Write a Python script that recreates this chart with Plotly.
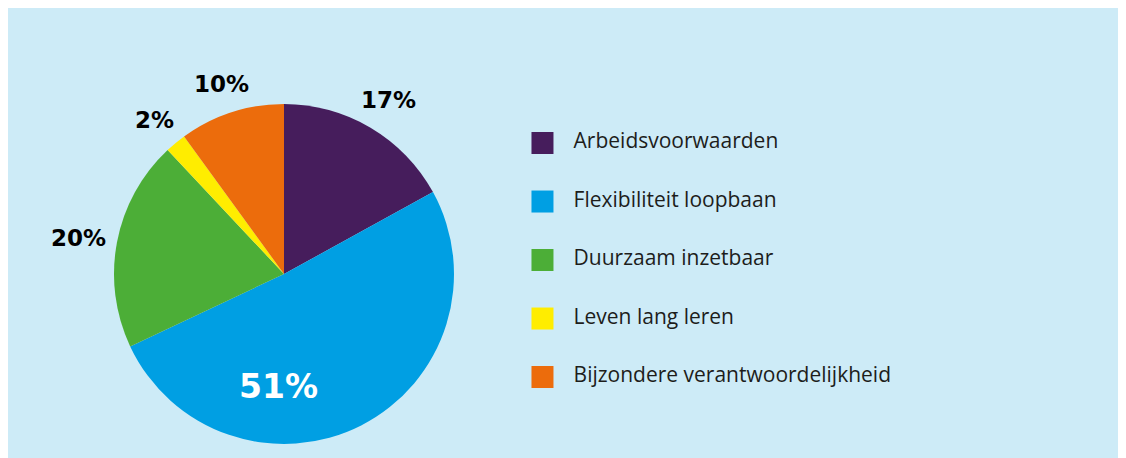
import math
import plotly.graph_objects as go

categories = ["Arbeidsvoorwaarden", "Flexibiliteit loopbaan", "Duurzaam inzetbaar",
              "Leven lang leren", "Bijzondere verantwoordelijkheid"]
values = [17, 51, 20, 2, 10]
colors = ["#461d5c", "#009fe3", "#4cae37", "#ffed00", "#ec6c0c"]

W, H = 1126, 458
BG = "#cdebf7"

fig = go.Figure()

# pie geometry (figure pixels)
cx, cy, R = 276, 266, 170
fig.add_trace(go.Pie(
    labels=categories, values=values, sort=False, direction="clockwise", rotation=0,
    marker=dict(colors=colors, line=dict(width=0)),
    textinfo="none",
    domain=dict(x=[(cx - R) / W, (cx + R) / W], y=[1 - (cy + R) / H, 1 - (cy - R) / H]),
    showlegend=False, hoverinfo="label+percent",
))

# percentage labels computed from the values (outside for small slices, inside for the big one)
total = sum(values)
cum = 0
lab_size = 23
for i, v in enumerate(values):
    mid = (cum + v / 2) / total * 2 * math.pi
    cum += v
    dx, dy = math.sin(mid), -math.cos(mid)
    txt = f"{v}%"
    if v > 40:
        px, py = cx - 0.03 * R, cy + 0.66 * R
        fig.add_annotation(x=px / W, y=1 - py / H, xref="paper", yref="paper",
                           xanchor="center", yanchor="middle", text=txt, showarrow=False,
                           font=dict(family="DejaVu Sans", size=33, color="white", weight="bold"))
    else:
        hw = 0.29 * lab_size * len(txt)
        hh = 9
        r = R + 18 + hw * abs(dx) + hh * abs(dy)
        px, py = cx + r * dx, cy + r * dy + 3
        fig.add_annotation(x=px / W, y=1 - py / H, xref="paper", yref="paper",
                           xanchor="center", yanchor="middle", text=txt, showarrow=False,
                           font=dict(family="DejaVu Sans", size=lab_size, color="#000000", weight="bold"))

# legend built from a scatter trace
fig.add_trace(go.Scatter(
    x=[0] * len(categories), y=list(range(len(categories))),
    mode="markers+text",
    marker=dict(symbol="square", size=22, color=colors, line=dict(width=0)),
    text=["   " + c for c in categories], textposition="middle right",
    textfont=dict(family="Open Sans", size=21, color="#1d1d1b"),
    showlegend=False, hoverinfo="skip", cliponaxis=False,
))

fig.update_xaxes(domain=[0.463, 1.0], range=[-1, 45], visible=False, fixedrange=True)
fig.update_yaxes(domain=[0, 1], range=[5.521, -2.308], visible=False, fixedrange=True)

fig.update_layout(
    width=W, height=H,
    margin=dict(l=0, r=0, t=0, b=0),
    paper_bgcolor=BG, plot_bgcolor="rgba(0,0,0,0)",
    showlegend=False,
)

fig.write_html("out.html")
